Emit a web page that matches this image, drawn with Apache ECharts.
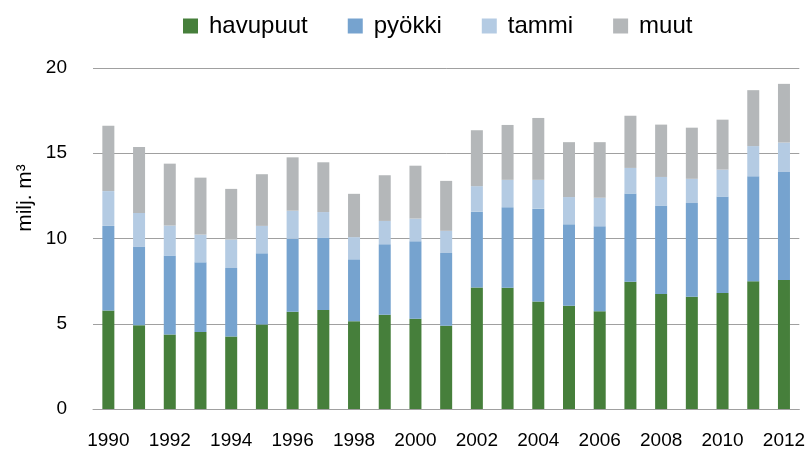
<!DOCTYPE html>
<html>
<head>
<meta charset="utf-8">
<script src="https://cdn.jsdelivr.net/npm/echarts@6/dist/echarts.min.js"></script>
<style>
  html, body { margin: 0; padding: 0; background: #fff; }
  #chart { width: 808px; height: 450px; }
</style>
</head>
<body>
<div id="chart"></div>
<script>
// vuodet
var years = ['1990','1991','1992','1993','1994','1995','1996','1997','1998','1999','2000',
             '2001','2002','2003','2004','2005','2006','2007','2008','2009','2010','2011','2012'];

// milj. m3, luettu kuvasta
var havupuut = [5.77, 4.91, 4.37, 4.52, 4.25, 4.95, 5.71, 5.81, 5.15, 5.53, 5.30,
                4.89, 7.13, 7.11, 6.31, 6.06, 5.73, 7.46, 6.74, 6.58, 6.80, 7.50, 7.57];
var pyokki   = [4.97, 4.62, 4.64, 4.08, 4.02, 4.18, 4.27, 4.25, 3.63, 4.14, 4.54,
                4.26, 4.44, 4.73, 5.44, 4.77, 4.99, 5.18, 5.20, 5.50, 5.67, 6.15, 6.33];
var tammi    = [2.04, 1.97, 1.75, 1.63, 1.67, 1.61, 1.65, 1.49, 1.30, 1.36, 1.33,
                1.30, 1.50, 1.60, 1.69, 1.60, 1.67, 1.50, 1.67, 1.42, 1.57, 1.77, 1.73];
var muut     = [3.84, 3.86, 3.63, 3.34, 2.97, 3.03, 3.13, 2.92, 2.54, 2.68, 3.10,
                2.93, 3.28, 3.22, 3.63, 3.22, 3.26, 3.06, 3.07, 3.00, 2.93, 3.28, 3.44];

var yTicks = [0, 5, 10, 15, 20];

var font = '"Liberation Sans", Arial, sans-serif';
var myChart = echarts.init(document.getElementById('chart'), null, { renderer: 'canvas' });

function bar(name, data, color) {
  return {
    name: name,
    type: 'bar',
    stack: 'total',
    data: data,
    barWidth: 12,
    itemStyle: { color: color },
    emphasis: { disabled: true }
  };
}

var option = {
  animation: false,
  textStyle: { fontFamily: font },
  legend: {
    top: 9,
    left: 178,
    itemWidth: 15,
    itemHeight: 15,
    itemGap: 40,
    icon: 'rect',
    textStyle: { fontSize: 24, color: '#000', padding: [0, 0, 0, 6] },
    data: ['havupuut', 'pyökki', 'tammi', 'muut']
  },
  grid: {
    left: 93,
    right: 4,
    top: 68,
    bottom: 38
  },
  xAxis: {
    type: 'category',
    data: years,
    axisTick: { show: false },
    axisLine: { lineStyle: { color: '#a0a0a0', width: 1 } },
    axisLabel: { interval: 1, fontSize: 19, color: '#000', margin: 22 }
  },
  yAxis: {
    type: 'value',
    min: yTicks[0],
    max: yTicks[yTicks.length - 1],
    interval: 5,
    axisLine: { show: false },
    axisTick: { show: false },
    splitLine: { lineStyle: { color: '#a0a0a0', width: 1 } },
    axisLabel: { fontSize: 19, color: '#000', margin: 26 }
  },
  graphic: [{
    type: 'text',
    x: 25,
    y: 198,
    rotation: Math.PI / 2,
    style: {
      text: 'milj. m³',
      font: '21px ' + font,
      fill: '#000',
      textAlign: 'center',
      textVerticalAlign: 'middle'
    }
  }],
  series: [
    bar('havupuut', havupuut, '#467f3b'),
    bar('pyökki', pyokki, '#76a3cf'),
    bar('tammi', tammi, '#b4cbe3'),
    bar('muut', muut, '#b4b7b9')
  ]
};

option && myChart.setOption(option);
</script>
</body>
</html>
